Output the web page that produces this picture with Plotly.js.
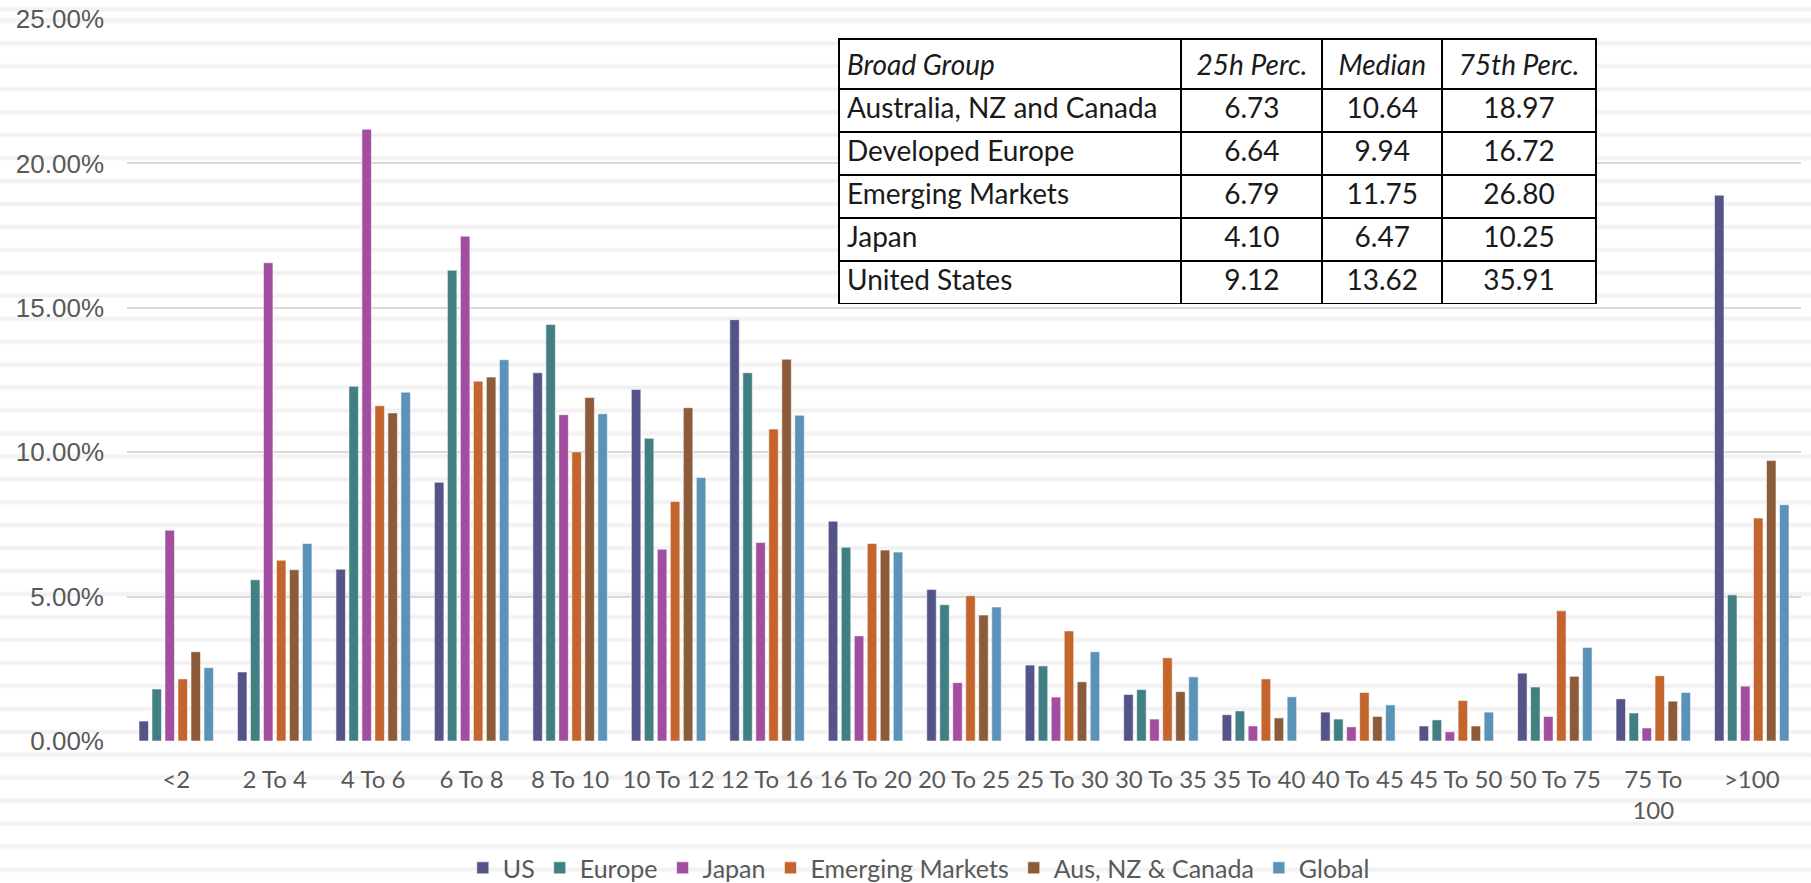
<!DOCTYPE html>
<html>
<head>
<meta charset="utf-8">
<script src="https://cdn.plot.ly/plotly-3.0.1.min.js"></script>
<style>
  html, body { margin: 0; padding: 0; background: #ffffff; }
  #chart {
    width: 1811px; height: 883px;
    background-color: #ffffff;
    background-image: repeating-linear-gradient(180deg,
      #ffffff 0px, #f1f1f1 2px, #f1f1f1 4px, #ffffff 6px, #ffffff 22.95px);
    background-position: 0 17.35px;
  }
</style>
</head>
<body>
<div id="chart"></div>
<script>
// ---- Data ----
const categories = ["<2", "2 To 4", "4 To 6", "6 To 8", "8 To 10", "10 To 12", "12 To 16",
  "16 To 20", "20 To 25", "25 To 30", "30 To 35", "35 To 40", "40 To 45", "45 To 50",
  "50 To 75", "75 To<br>100", ">100"];

const seriesNames = ["US", "Europe", "Japan", "Emerging Markets", "Aus, NZ & Canada", "Global"];

const usValues     = [0.69, 2.39, 5.95, 8.96, 12.75, 12.17, 14.59, 7.61, 5.25, 2.63, 1.61, 0.91, 1.00, 0.52, 2.35, 1.46, 18.90];
const europeValues = [1.80, 5.58, 12.28, 16.30, 14.42, 10.48, 12.75, 6.71, 4.72, 2.60, 1.78, 1.04, 0.76, 0.73, 1.87, 0.97, 5.06];
const japanValues  = [7.30, 16.56, 21.18, 17.48, 11.30, 6.64, 6.87, 3.64, 2.02, 1.52, 0.76, 0.52, 0.49, 0.32, 0.85, 0.45, 1.90];
const emValues     = [2.15, 6.26, 11.61, 12.46, 10.01, 8.29, 10.80, 6.84, 5.03, 3.81, 2.88, 2.15, 1.68, 1.40, 4.51, 2.26, 7.72];
const ausValues    = [3.09, 5.93, 11.36, 12.60, 11.89, 11.54, 13.22, 6.61, 4.36, 2.05, 1.71, 0.80, 0.85, 0.52, 2.24, 1.38, 9.71];
const globalValues = [2.54, 6.84, 12.08, 13.20, 11.33, 9.12, 11.28, 6.54, 4.64, 3.09, 2.22, 1.53, 1.25, 1.00, 3.24, 1.68, 8.18];

const seriesColors = ["#545489", "#417F82", "#A24DA0", "#C3652D", "#8B5B3A", "#5B93B8"];

// Table data
const tableHeader = ["Broad Group", "25h Perc.", "Median", "75th Perc."];
const tableGroups = ["Australia, NZ and Canada", "Developed Europe", "Emerging Markets", "Japan", "United States"];
const tableP25    = ["6.73", "6.64", "6.79", "4.10", "9.12"];
const tableMedian = ["10.64", "9.94", "11.75", "6.47", "13.62"];
const tableP75    = ["18.97", "16.72", "26.80", "10.25", "35.91"];

// ---- Traces ----
const allValues = [usValues, europeValues, japanValues, emValues, ausValues, globalValues];
const labelFont = "Lato, Liberation Sans, Arial, sans-serif";

const traces = allValues.map((vals, i) => ({
  type: "bar",
  name: seriesNames[i],
  x: categories,
  y: vals,
  marker: { color: seriesColors[i], line: { color: "rgba(255,255,255,0.55)", width: 1 } },
  hoverinfo: "x+y+name"
}));

traces.push({
  type: "table",
  domain: { x: [0.4253, 0.8781], y: [0.605, 0.9723] },
  columnwidth: [343, 141, 120, 154],
  header: {
    values: tableHeader.map(h => "<i>" + h + "</i>"),
    align: ["left", "center", "center", "center"],
    height: 43,
    fill: { color: "#ffffff" },
    line: { color: "#000000", width: 2 },
    font: { family: labelFont, size: 28, color: "#1a1a1a" }
  },
  cells: {
    values: [tableGroups, tableP25, tableMedian, tableP75],
    align: ["left", "center", "center", "center"],
    height: 43,
    fill: { color: "#ffffff" },
    line: { color: "#000000", width: 2 },
    font: { family: labelFont, size: 28, color: "#1a1a1a" }
  }
});

const layout = {
  width: 1811,
  height: 883,
  margin: { l: 127, r: 10, t: 19, b: 142, autoexpand: false },
  paper_bgcolor: "rgba(0,0,0,0)",
  plot_bgcolor: "rgba(0,0,0,0)",
  barmode: "group",
  bargap: 0.208,
  bargroupgap: 0.27,
  showlegend: true,
  legend: {
    orientation: "h",
    x: 0.473, xanchor: "center",
    y: -0.176, yanchor: "middle",
    font: { family: labelFont, size: 25, color: "#595959" },
    itemwidth: 30,
    bgcolor: "rgba(0,0,0,0)"
  },
  xaxis: {
    type: "category",
    automargin: false,
    showgrid: false,
    zeroline: false,
    showline: false,
    ticks: "",
    tickangle: 0,
    ticklabelstandoff: 22,
    tickfont: { family: labelFont, size: 24, color: "#595959" }
  },
  yaxis: {
    range: [0, 25],
    dtick: 5,
    automargin: false,
    tickformat: ".2f",
    ticksuffix: "%",
    showgrid: true,
    gridcolor: "#d9d9d9",
    gridwidth: 2,
    zeroline: false,
    showline: false,
    ticks: "",
    ticklabelstandoff: 22,
    tickfont: { family: "Liberation Sans, Arial, sans-serif", size: 26, color: "#595959" }
  },
  font: { family: "Liberation Sans, Arial, sans-serif", color: "#595959" }
};

Plotly.newPlot("chart", traces, layout, { displayModeBar: false, staticPlot: true });
</script>
</body>
</html>
